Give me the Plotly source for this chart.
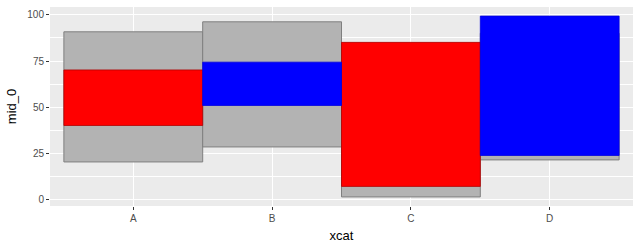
import plotly.graph_objects as go

categories = ["A", "B", "C", "D"]
outer_low = [20.5, 28.6, 1.6, 21.6]
outer_high = [90.8, 96.2, 80.0, 90.0]
inner_low = [40.2, 51.0, 7.3, 24.0]
inner_high = [70.2, 74.4, 85.1, 99.3]
inner_group = ["red", "blue", "red", "blue"]

fig = go.Figure()

fig.add_trace(go.Bar(
    x=categories,
    base=outer_low,
    y=[h - l for h, l in zip(outer_high, outer_low)],
    width=1,
    marker=dict(color="#B3B3B3", line=dict(color="#7F7F7F", width=1)),
    showlegend=False,
    hoverinfo="skip",
))

for grp, fill, edge in [("red", "#FF0000", "#B00000"), ("blue", "#0000FF", "#0000E0")]:
    xs = [c for c, g in zip(categories, inner_group) if g == grp]
    lo = [v for v, g in zip(inner_low, inner_group) if g == grp]
    hi = [v for v, g in zip(inner_high, inner_group) if g == grp]
    fig.add_trace(go.Bar(
        x=xs,
        base=lo,
        y=[h - l for h, l in zip(hi, lo)],
        width=1,
        marker=dict(color=fill, line=dict(color=edge, width=0.8)),
        showlegend=False,
        hoverinfo="skip",
    ))

tickfont = dict(family="Liberation Sans, Arial, sans-serif", size=10, color="#4D4D4D")

fig.update_layout(
    width=639,
    height=248,
    margin=dict(l=50, r=6, t=7, b=42),
    barmode="overlay",
    paper_bgcolor="white",
    plot_bgcolor="#EBEBEB",
    font=dict(family="Liberation Sans, Arial, sans-serif", color="#4D4D4D", size=10),
    xaxis=dict(
        type="category",
        categoryorder="array",
        categoryarray=categories,
        range=[-0.6, 3.6],
        showgrid=True,
        gridcolor="white",
        gridwidth=1.1,
        zeroline=False,
        ticks="outside",
        ticklen=3,
        tickwidth=1,
        tickcolor="#333333",
        tickfont=tickfont,
        title=dict(text="xcat", font=dict(size=13, color="black"), standoff=7),
    ),
    yaxis=dict(
        range=[-3.3, 104.2],
        tickmode="array",
        tickvals=[0, 25, 50, 75, 100],
        ticktext=["0", "25", "50", "75", "100"],
        showgrid=True,
        gridcolor="white",
        gridwidth=1.1,
        zeroline=False,
        ticks="outside",
        ticklen=3,
        tickwidth=1,
        tickcolor="#333333",
        tickfont=tickfont,
        minor=dict(tickvals=[12.5, 37.5, 62.5, 87.5], showgrid=True, gridcolor="white", gridwidth=0.5, ticks=""),
        title=dict(text="mid_0", font=dict(size=13, color="black"), standoff=7),
    ),
)

fig.write_html("out.html")
